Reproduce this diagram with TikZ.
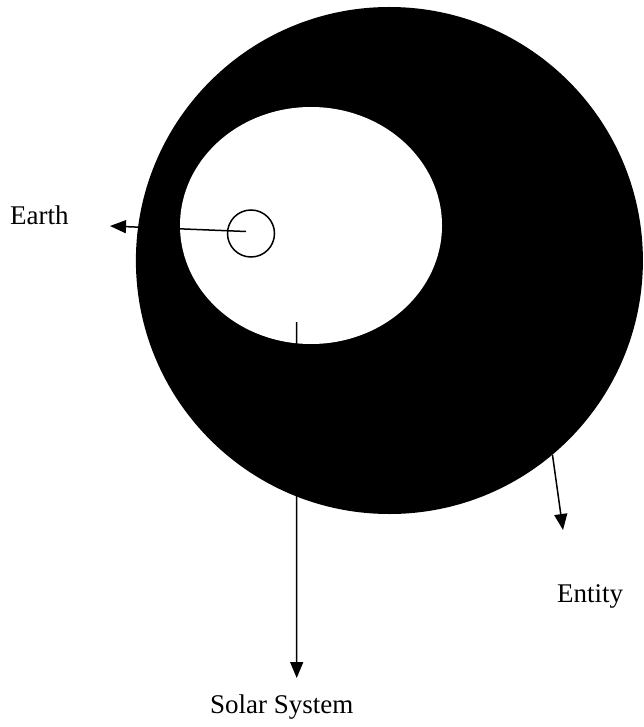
\documentclass[tikz,border=0pt]{standalone}
\usepackage{fontspec}
\setmainfont{Liberation Serif}
\usetikzlibrary{arrows.meta,positioning,shapes.geometric}

\begin{document}
\begin{tikzpicture}[x=1pt,y=-1pt,>={Triangle[length=16pt,width=13pt]}]
\useasboundingbox (0,0) rectangle (643,727);
\node[circle,fill=black,minimum size=507pt,inner sep=0pt] (entity) at (389.4,260.5) {};
\node[ellipse,fill=white,minimum width=262pt,minimum height=237pt,inner sep=0pt] (solar) at (311,225.5) {};
\node[circle,draw=black,line width=1.5pt,minimum size=47pt,inner sep=0pt] (earth) at (251,233.5) {};
\node[anchor=base west,inner sep=0pt,font=\fontsize{27}{32}\selectfont] (earthlbl) at (10,225) {Earth};
\node[anchor=base west,inner sep=0pt,font=\fontsize{27}{32}\selectfont] (solarlbl) at (210,713) {Solar System};
\node[anchor=base west,inner sep=0pt,font=\fontsize{27}{32}\selectfont] (entitylbl) at (557,602) {Entity};
\coordinate (earthtip) at (110,226);
\coordinate (solartip) at (296.7,678);
\coordinate (entitytip) at (563,530);
\draw[->,line width=1.5pt] ([xshift=-5pt,yshift=2pt]earth.center)--(earthtip);
\draw[->,line width=1.5pt] ([xshift=-14.5pt,yshift=22pt]solar.south)--(solartip);
\draw[->,line width=1.5pt] (entity.-50)--(entitytip);
\end{tikzpicture}
\end{document}
